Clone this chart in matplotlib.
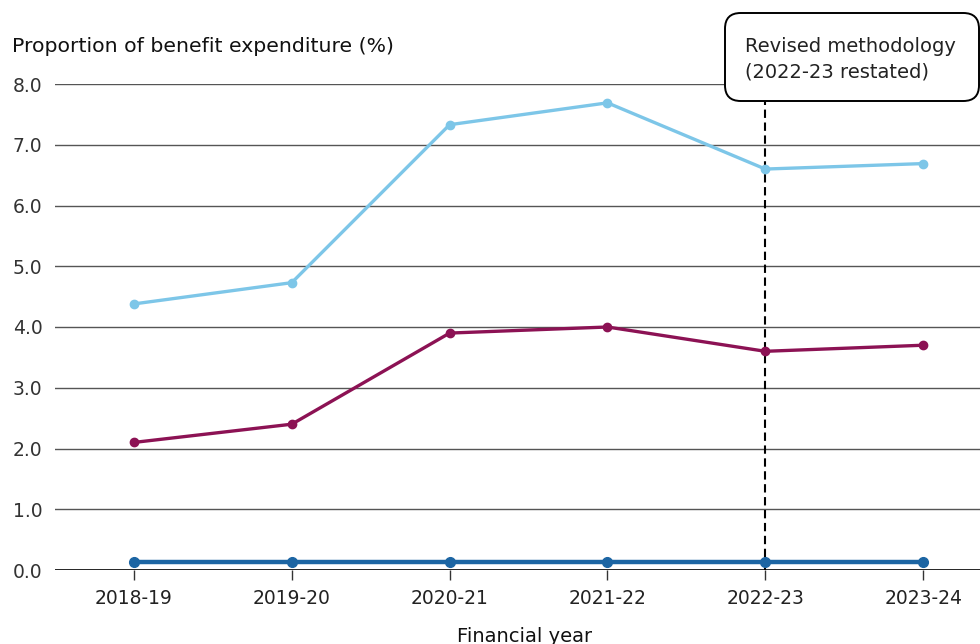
import matplotlib.pyplot as plt
from matplotlib.patches import FancyBboxPatch

plt.rcParams['font.family'] = ['DejaVu Sans']

years = ['2018-19', '2019-20', '2020-21', '2021-22', '2022-23', '2023-24']
series_light = [4.38, 4.73, 7.33, 7.69, 6.60, 6.69]
series_maroon = [2.1, 2.4, 3.9, 4.0, 3.6, 3.7]
series_dark = [0.13, 0.13, 0.13, 0.13, 0.13, 0.13]
yticks = [0.0, 1.0, 2.0, 3.0, 4.0, 5.0, 6.0, 7.0, 8.0]
revised_year = '2022-23'

fig = plt.figure(figsize=(9.8, 6.44), dpi=100)
ax = fig.add_axes([55 / 980, 74 / 644, 925 / 980, 486 / 644])

x = list(range(len(years)))
for y in yticks[1:]:
    ax.axhline(y, color='#555555', lw=1.0, zorder=1)
ax.axhline(0, color='black', lw=1.2, zorder=1)

ax.plot(x, series_light, color='#7DC6E8', lw=2.4, marker='o', ms=6, zorder=3, clip_on=False)
ax.plot(x, series_maroon, color='#8C1254', lw=2.4, marker='o', ms=6, zorder=3, clip_on=False)
ax.plot(x, series_dark, color='#1C65A3', lw=3.2, marker='o', ms=7, zorder=3, clip_on=False)

xi = years.index(revised_year)
ax.plot([xi, xi], [0, 8.3], color='black', lw=1.5, ls=(0, (4, 2.2)), zorder=2, clip_on=False)

ax.set_xlim(-0.5, 5.36)
ax.set_ylim(0, 8)
ax.set_xticks(x)
ax.set_xticklabels(years)
ax.set_yticks(yticks)
ax.set_yticklabels([f'{v:.1f}' for v in yticks])
for s in ax.spines.values():
    s.set_visible(False)
ax.tick_params(axis='x', length=7, width=1, color='#333333', pad=7, labelsize=13.5, labelcolor='#222222')
ax.tick_params(axis='y', length=0, pad=9, labelsize=13.5, labelcolor='#333333')

fig.text(12 / 980, 1 - 46 / 644, 'Proportion of benefit expenditure (%)', fontsize=14.7,
         color='#111111', va='center', ha='left')
fig.text(525 / 980, 1 - 636 / 644, 'Financial year', fontsize=14, color='#111111',
         va='center', ha='center')

box = FancyBboxPatch((725 / 980, 1 - 101 / 644), 254 / 980, 88 / 644,
                     boxstyle='round,pad=0,rounding_size=0.016',
                     transform=fig.transFigure, facecolor='white', edgecolor='black',
                     lw=1.4, zorder=10, mutation_aspect=980 / 644)
fig.patches.append(box)
fig.text(745 / 980, 1 - 59 / 644, 'Revised methodology\n(2022-23 restated)', fontsize=14,
         color='#222222', va='center', ha='left', linespacing=1.45, zorder=11)

fig.savefig('out.png', dpi=100)
